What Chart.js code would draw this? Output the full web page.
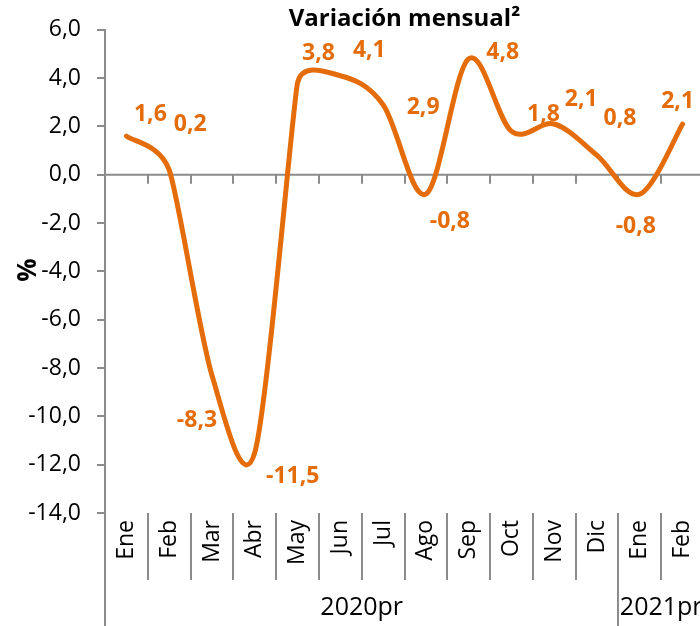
<!DOCTYPE html>
<html lang="es">
<head>
  <meta charset="UTF-8">
  <title>Variación mensual</title>
  <script src="https://cdn.jsdelivr.net/npm/chart.js"></script>
  <style>
    html, body { margin: 0; padding: 0; background: #fff; }
    #wrap { width: 700px; height: 626px; overflow: hidden; }
  </style>
</head>
<body>
  <div id="wrap"><canvas id="chart" width="704" height="626"></canvas></div>

  <script>
    // data
    const categories = ['Ene', 'Feb', 'Mar', 'Abr', 'May', 'Jun', 'Jul', 'Ago', 'Sep', 'Oct', 'Nov', 'Dic', 'Ene', 'Feb'];
    const values = [1.6, 0.2, -8.3, -11.5, 3.8, 4.1, 2.9, -0.8, 4.8, 1.8, 2.1, 0.8, -0.8, 2.1];
    const yearLabels = ['2020pr', '2021pr'];
    const yearSpans = [12, 2];
    const yMin = -14, yMax = 6, yStep = 2;

    // where each value label sits relative to its point (px)
    const labelOffsets = [
      [24, -22], [21, -45], [-15, 45], [38, 24], [21, -29], [29, -25], [40, 3],
      [24, 27], [34, -6], [32, -17], [27, -25], [23, -37], [-4, 32], [-5, -23]
    ];

    const orange = '#E46C0A';
    const axisGrey = '#8c8c8c';
    const fontFam = "'Open Sans', sans-serif";

    const fmt = v => v.toFixed(1).replace('.', ',');
    const dist = (a, b) => Math.hypot(b.x - a.x, b.y - a.y);

    // Excel-style smoothing: control points at 1/6 of the neighbour difference,
    // shortened when that would reach past half of a neighbouring segment
    const excelSmooth = {
      id: 'excelSmooth',
      beforeDatasetsDraw(chart) {
        const meta = chart.getDatasetMeta(0);
        const pts = meta.data;
        pts.forEach((p, i) => {
          const prev = pts[i - 1] || p;
          const next = pts[i + 1] || p;
          const d02 = dist(prev, next);
          let f = 1 / 6;
          const dmin = Math.min(dist(prev, p) || Infinity, dist(p, next) || Infinity);
          if (d02 > 0 && f * d02 > dmin / 2) f = dmin / (2 * d02);
          const dx = (next.x - prev.x) * f, dy = (next.y - prev.y) * f;
          p.cp1x = p.x - dx; p.cp1y = p.y - dy;
          p.cp2x = p.x + dx; p.cp2y = p.y + dy;
        });
        meta.dataset._pointsUpdated = true;
      }
    };

    const decorations = {
      id: 'decorations',
      beforeDatasetsDraw(chart) {
        const { ctx, chartArea, scales } = chart;
        const y = scales.y;
        const step = (chartArea.right - chartArea.left) / categories.length;
        const y0 = y.getPixelForValue(0);
        ctx.save();
        ctx.strokeStyle = axisGrey;
        ctx.lineWidth = 2;
        // zero line + tick marks
        ctx.beginPath();
        ctx.moveTo(chartArea.left, y0);
        ctx.lineTo(chartArea.right, y0);
        for (let i = 1; i <= categories.length; i++) {
          const px = Math.round(chartArea.left + i * step);
          ctx.moveTo(px, y0);
          ctx.lineTo(px, y0 + 9);
        }
        ctx.stroke();

        // left axis down to the bottom
        ctx.beginPath();
        ctx.moveTo(chartArea.left, chartArea.top);
        ctx.lineTo(chartArea.left, chart.height);
        ctx.stroke();

        // separators below the plot
        ctx.beginPath();
        let acc = 0;
        const yearEnds = yearSpans.map(s => (acc += s));
        for (let i = 1; i < categories.length; i++) {
          const px = Math.round(chartArea.left + i * step);
          ctx.moveTo(px, chartArea.bottom);
          ctx.lineTo(px, yearEnds.includes(i) ? chart.height : chartArea.bottom + 67);
        }
        ctx.stroke();

        // year labels
        ctx.fillStyle = '#000';
        ctx.font = '25px ' + fontFam;
        ctx.textAlign = 'center';
        ctx.textBaseline = 'middle';
        let start = 0;
        yearLabels.forEach((lab, k) => {
          const cx = chartArea.left + (start + yearSpans[k] / 2) * step;
          ctx.fillText(lab, cx, 608);
          start += yearSpans[k];
        });

        // title
        ctx.font = 'bold 24px ' + fontFam;
        ctx.fillText('Variación mensual²', (chartArea.left + chartArea.right) / 2, 19);

        // y title
        ctx.save();
        ctx.translate(29, 270);
        ctx.rotate(-Math.PI / 2);
        ctx.font = 'bold 26px ' + fontFam;
        ctx.fillText('%', 0, 0);
        ctx.restore();
        ctx.restore();
      },
      afterDatasetsDraw(chart) {
        const { ctx } = chart;
        const meta = chart.getDatasetMeta(0);
        ctx.save();
        ctx.fillStyle = orange;
        ctx.font = 'bold 23px ' + fontFam;
        ctx.textAlign = 'center';
        ctx.textBaseline = 'middle';
        meta.data.forEach((pt, i) => {
          const [dx, dy] = labelOffsets[i];
          ctx.fillText(fmt(values[i]), pt.x + dx, pt.y + dy);
        });
        ctx.restore();
      }
    };

    new Chart(document.getElementById('chart'), {
      type: 'line',
      data: {
        labels: categories,
        datasets: [{
          data: values,
          borderColor: orange,
          borderWidth: 5,
          borderCapStyle: 'round',
          pointRadius: 0,
          tension: 0.4,
          fill: false
        }]
      },
      options: {
        responsive: false,
        animation: false,
        layout: { padding: { top: 29, left: 0, right: 0, bottom: 0 } },
        plugins: { legend: { display: false }, tooltip: { enabled: false } },
        scales: {
          x: {
            offset: true,
            grid: { display: false, drawTicks: false },
            border: { display: false },
            ticks: {
              autoSkip: false,
              minRotation: 90,
              maxRotation: 90,
              padding: 7,
              color: '#000',
              font: { family: fontFam, size: 23 }
            },
            afterFit: s => { s.height = 113; s.paddingLeft = 0; s.paddingRight = 0; }
          },
          y: {
            min: yMin,
            max: yMax,
            grid: { drawOnChartArea: false, drawTicks: true, tickLength: 8, color: axisGrey, lineWidth: 2 },
            border: { display: true, color: axisGrey, width: 2 },
            ticks: {
              stepSize: yStep,
              padding: 16,
              color: '#000',
              font: { family: fontFam, size: 23 },
              callback: v => fmt(v)
            },
            afterFit: s => { s.width = 105; }
          }
        }
      },
      plugins: [excelSmooth, decorations]
    });
  </script>
</body>
</html>
